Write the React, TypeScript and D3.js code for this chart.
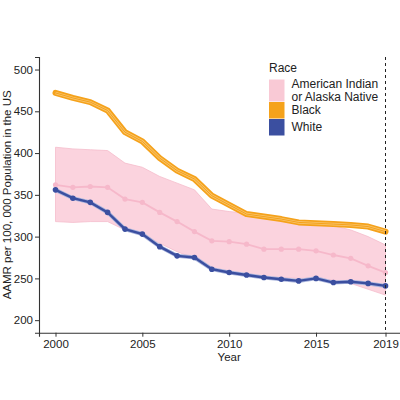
import { useEffect, useRef } from 'react';
import * as d3 from 'd3';

const years = d3.range(2000, 2020);

const aianRate = [362, 359, 360, 359, 345, 341, 329, 318, 306, 295, 294, 291, 285, 285, 285, 283, 278, 274, 265, 257];
const aianUpper = [407, 405, 404, 403, 388, 383, 372, 364, 356, 333, 330, 328, 324, 321, 318, 316, 313, 308, 300, 290];
const aianLower = [318, 317, 318, 318, 308, 303, 292, 282, 274, 262, 258, 255, 252, 251, 250, 250, 248, 244, 237, 230];

const blackRate = [472, 466, 461, 451, 425, 414, 394, 379, 369, 349, 338, 327, 324, 321, 317, 316, 315, 314, 312, 306];
const whiteRate = [356, 346, 341, 329, 309, 303, 288, 277, 275, 261, 257, 254, 251, 249, 247, 250, 245, 246, 244, 241];

const yTicks = [200, 250, 300, 350, 400, 450, 500];
const xTicks = [2000, 2005, 2010, 2015, 2019];

const legendItems = [
  { label: ['American Indian', 'or Alaska Native'], color: '#f9c9d5' },
  { label: ['Black'], color: '#f5a21b' },
  { label: ['White'], color: '#3b4fa0' },
];

const FONT = '"Liberation Sans", Arial, sans-serif';

export default function App() {
  const svgRef = useRef<SVGSVGElement>(null);

  useEffect(() => {
    if (!svgRef.current) return;
    const svg = d3.select(svgRef.current);
    svg.selectAll('*').remove();

    const x = d3.scaleLinear().domain([1999.05, 2019.95]).range([39, 402]);
    const y = d3.scaleLinear().domain([185, 515]).range([332.7, 57]);

    const g = svg.append('g');

    // AIAN ribbon
    const band = d3
      .area<number>()
      .x((d) => x(years[d]))
      .y0((d) => y(aianLower[d]))
      .y1((d) => y(aianUpper[d]));
    g.append('path')
      .attr('d', band(d3.range(years.length)))
      .attr('fill', '#fbd3de')
      .attr('stroke', '#f5bccb')
      .attr('stroke-width', 0.8);

    const line = d3
      .line<number>()
      .x((d, i) => x(years[i]));

    // AIAN line
    g.append('path')
      .attr('d', line.y((d) => y(d))(aianRate))
      .attr('fill', 'none')
      .attr('stroke', '#f6b8ca')
      .attr('stroke-width', 1.8);
    g.selectAll('.aian-pt')
      .data(aianRate)
      .enter()
      .append('circle')
      .attr('cx', (d, i) => x(years[i]))
      .attr('cy', (d) => y(d))
      .attr('r', 2.6)
      .attr('fill', '#f6b8ca');

    // Black: narrow ribbon + line
    g.append('path')
      .attr('d', line.y((d) => y(d))(blackRate))
      .attr('fill', 'none')
      .attr('stroke', '#f5a21b')
      .attr('stroke-width', 6)
      .attr('stroke-linejoin', 'round')
      .attr('stroke-linecap', 'round');
    g.append('path')
      .attr('d', line.y((d) => y(d))(blackRate))
      .attr('fill', 'none')
      .attr('stroke', '#f8c36a')
      .attr('stroke-width', 2.6);
    g.append('path')
      .attr('d', line.y((d) => y(d))(blackRate))
      .attr('fill', 'none')
      .attr('stroke', '#f5a21b')
      .attr('stroke-width', 1);

    // White
    g.append('path')
      .attr('d', line.y((d) => y(d))(whiteRate))
      .attr('fill', 'none')
      .attr('stroke', '#a9b4dc')
      .attr('stroke-width', 4);
    g.append('path')
      .attr('d', line.y((d) => y(d))(whiteRate))
      .attr('fill', 'none')
      .attr('stroke', '#3b4fa0')
      .attr('stroke-width', 2.4);
    g.selectAll('.white-pt')
      .data(whiteRate)
      .enter()
      .append('circle')
      .attr('cx', (d, i) => x(years[i]))
      .attr('cy', (d) => y(d))
      .attr('r', 2.8)
      .attr('fill', '#3b4fa0');

    // dashed 2019 reference
    g.append('line')
      .attr('x1', x(2019))
      .attr('x2', x(2019))
      .attr('y1', y(515))
      .attr('y2', y(185))
      .attr('stroke', '#222')
      .attr('stroke-width', 1)
      .attr('stroke-dasharray', '3,3');

    // axes
    const yAxis = svg
      .append('g')
      .attr('transform', 'translate(39,0)')
      .call(d3.axisLeft(y).tickValues(yTicks).tickSize(4).tickPadding(2));
    const xAxis = svg
      .append('g')
      .attr('transform', 'translate(0,332.7)')
      .call(
        d3
          .axisBottom(x)
          .tickValues(xTicks)
          .tickSize(4)
          .tickPadding(3)
          .tickFormat(d3.format('d'))
      );
    [yAxis, xAxis].forEach((a) => {
      a.select('.domain').attr('stroke', '#333').attr('stroke-width', 1.1);
      a.selectAll('.tick line').attr('stroke', '#333');
      a.selectAll('.tick text')
        .attr('fill', '#222')
        .style('font-family', FONT)
        .style('font-size', '11.5px');
    });

    // titles
    svg
      .append('text')
      .attr('x', x(2010))
      .attr('y', 361)
      .attr('text-anchor', 'middle')
      .style('font-family', FONT)
      .style('font-size', '11.5px')
      .attr('fill', '#222')
      .text('Year');
    svg
      .append('text')
      .attr('transform', `translate(10.5,${(57 + 332.7) / 2}) rotate(-90)`)
      .attr('text-anchor', 'middle')
      .style('font-family', FONT)
      .style('font-size', '11.5px')
      .attr('fill', '#222')
      .text('AAMR per 100, 000 Population in the US');

    // legend
    const lg = svg.append('g').attr('transform', 'translate(269,0)');
    lg.append('text')
      .attr('x', 0)
      .attr('y', 72)
      .style('font-family', FONT)
      .style('font-size', '12px')
      .attr('fill', '#222')
      .text('Race');
    const keyTops = [79.5, 102, 119];
    const keyHeights = [22, 16.5, 16.5];
    legendItems.forEach((item, i) => {
      lg.append('rect')
        .attr('x', 0)
        .attr('y', keyTops[i])
        .attr('width', 15.5)
        .attr('height', keyHeights[i])
        .attr('fill', item.color);
      const t = lg
        .append('text')
        .attr('x', 22.5)
        .attr('y', keyTops[i] + keyHeights[i] / 2 - (item.label.length - 1) * 6.5 + 4.2)
        .style('font-family', FONT)
        .style('font-size', '12px')
        .attr('fill', '#222');
      item.label.forEach((s, j) => {
        t.append('tspan').attr('x', 22.5).attr('dy', j === 0 ? 0 : 13).text(s);
      });
    });
  }, []);

  return (
    <svg
      ref={svgRef}
      width={400}
      height={400}
      style={{ position: 'absolute', left: 0, top: 0, background: '#fff' }}
    />
  );
}
